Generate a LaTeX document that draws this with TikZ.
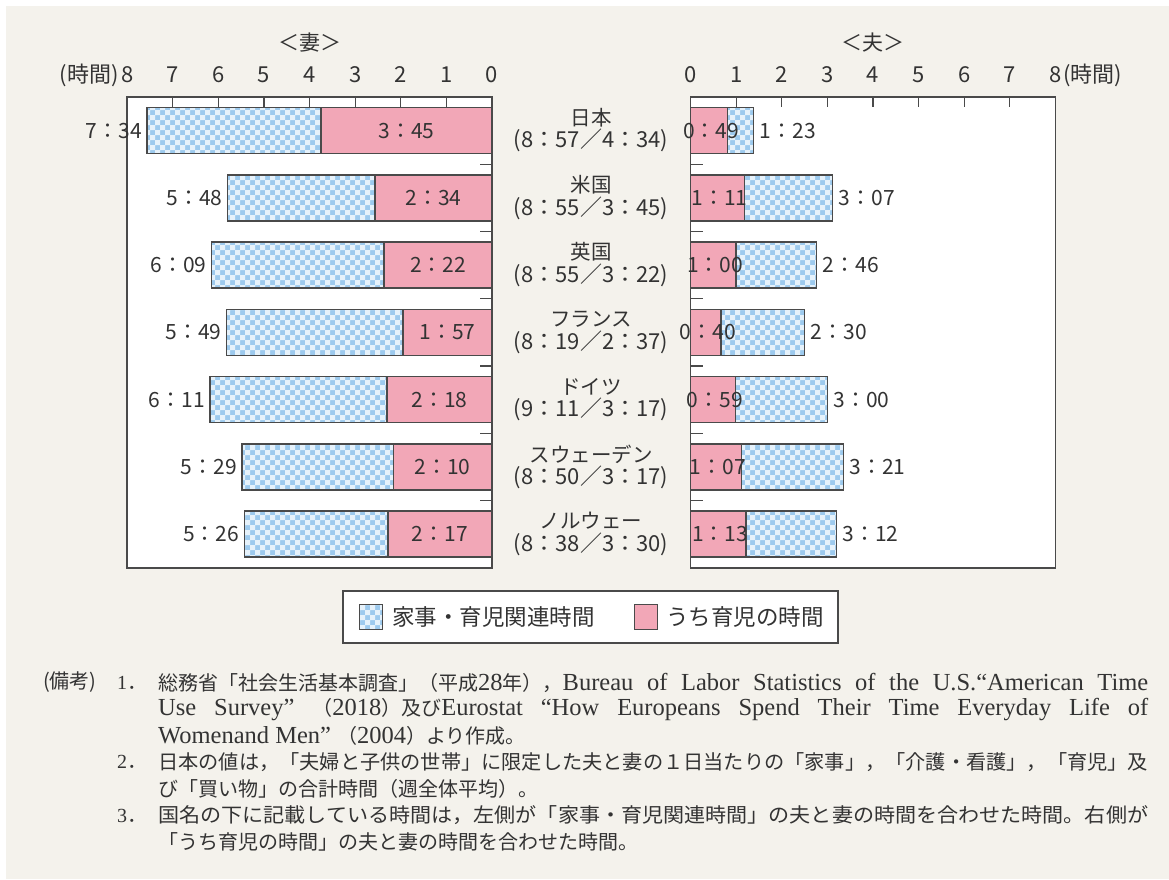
\documentclass[tikz,border=0pt]{standalone}
\usepackage{fontspec}
\usepackage{graphicx}
\newfontfamily\jpf{Noto Sans CJK JP}
\newfontfamily\latf{Liberation Serif}
\newcommand\lts{\latf\fontsize{24.5}{24.5}\selectfont}
\definecolor{bgc}{HTML}{F4F2EC}
\definecolor{lc}{HTML}{4A4A4A}
\definecolor{tc}{HTML}{333333}
\definecolor{cpink}{HTML}{F2A7B7}
\definecolor{cblue}{HTML}{9DCAEE}
\definecolor{clight}{HTML}{E6F2FB}
\tikzset{
  frame/.style={draw=lc, line width=1.5pt, fill=white},
  barline/.style={draw=lc, line width=1.3pt},
  tickline/.style={draw=lc, line width=1.2pt},
  lbl/.style={inner sep=0pt, text=tc, font=\jpf\fontsize{21}{21}\selectfont},
  axl/.style={inner sep=0pt, text=tc, font=\jpf\fontsize{22}{22}\selectfont},
  ttl/.style={inner sep=0pt, text=tc, font=\jpf\fontsize{21}{21}\selectfont},
  cname/.style={inner sep=0pt, text=tc, font=\jpf\fontsize{20.5}{20.5}\selectfont},
  cpair/.style={inner sep=0pt, text=tc, font=\jpf\fontsize{22}{22}\selectfont},
  leg/.style={inner sep=0pt, text=tc, font=\jpf\fontsize{22.5}{22.5}\selectfont, anchor=west},
  note/.style={inner sep=0pt, text=tc, font=\jpf\fontsize{20}{20}\selectfont, anchor=west},
}
\newcommand\chk[4]{%
  \begin{scope}
    \clip (#1,#2) rectangle (#3,#4);
    \fill[cblue] (#1,#2) rectangle (#3,#4);
    \pgfmathtruncatemacro\ka{floor(#1/10)}%
    \pgfmathtruncatemacro\kb{ceil(#3/10)}%
    \pgfmathtruncatemacro\ma{floor(#2/10)}%
    \pgfmathtruncatemacro\mb{ceil(#4/10)}%
    \fill[clight, even odd rule]
      \foreach \k in {\ka,...,\kb}{(10*\k,#2-1) rectangle (10*\k+5,#4+1)}
      \foreach \m in {\ma,...,\mb}{(#1-1,10*\m) rectangle (#3+1,10*\m+5)};
  \end{scope}}
\begin{document}
\begin{tikzpicture}[x=1pt,y=-1pt]
\useasboundingbox (0,0) rectangle (1169,879);
\fill[white] (0,0) rectangle (1169,879);
\fill[bgc] (6,6) rectangle (1169,879);
% titles
\node[ttl] (tw) at (310,43) {＜妻＞};
\node[ttl] (th) at (873,43) {＜夫＞};
% frames
\draw[frame] (127.2,97) rectangle (492,567.75);
\draw[frame] (690.5,97) rectangle (1055.3,567.75);
% axis labels
\foreach \h in {0,...,8}{
  \node[axl] (la\h) at (492-45.6*\h,75) {\h};
  \node[axl] (ra\h) at (690.5+45.6*\h,75) {\h};
}
\node[axl, anchor=east] (lunit) at (119,75) {(時間)};
\node[axl, anchor=west] (runit) at (1063,75) {(時間)};
% ticks
\foreach \h in {1,...,7}{
  \draw[tickline] (492-45.6*\h,97) -- ++(0,10);
  \draw[tickline] (690.5+45.6*\h,97) -- ++(0,10);
}
\foreach \k in {1,...,6}{
  \draw[tickline] (492,97+67.25*\k) -- ++(-12,0);
  \draw[tickline] (690.5,97+67.25*\k) -- ++(12,0);
}
% rows
\foreach \i/\nm/\pr/\tw/\cw/\th/\ch/\ltw/\lcw/\lth/\lch in {
  0/日本/8：57／4：34/454/225/83/49/7：34/3：45/1：23/0：49,
  1/米国/8：55／3：45/348/154/187/71/5：48/2：34/3：07/1：11,
  2/英国/8：55／3：22/369/142/166/60/6：09/2：22/2：46/1：00,
  3/フランス/8：19／2：37/349/117/150/40/5：49/1：57/2：30/0：40,
  4/ドイツ/9：11／3：17/371/138/180/59/6：11/2：18/3：00/0：59,
  5/スウェーデン/8：50／3：17/329/130/201/67/5：29/2：10/3：21/1：07,
  6/ノルウェー/8：38／3：30/326/137/192/73/5：26/2：17/3：12/1：13}{
  \pgfmathsetmacro\yc{130.6+67.25*\i}
  \pgfmathsetmacro\yt{\yc-23}
  \pgfmathsetmacro\yb{\yc+23}
  \pgfmathsetmacro\xwt{492-0.76*\tw}
  \pgfmathsetmacro\xwc{492-0.76*\cw}
  \pgfmathsetmacro\xht{690.5+0.76*\th}
  \pgfmathsetmacro\xhc{690.5+0.76*\ch}
  % wife
  \chk{\xwt}{\yt}{\xwc}{\yb}
  \fill[cpink] (\xwc,\yt) rectangle (492,\yb);
  \draw[barline] (\xwt,\yt) rectangle (492,\yb);
  \draw[barline] (\xwc,\yt) -- (\xwc,\yb);
  % husband
  \fill[cpink] (690.5,\yt) rectangle (\xhc,\yb);
  \chk{\xhc}{\yt}{\xht}{\yb}
  \draw[barline] (690.5,\yt) rectangle (\xht,\yb);
  \draw[barline] (\xhc,\yt) -- (\xhc,\yb);
  % labels
  \node[lbl, anchor=east] (wt\i) at (\xwt-5,\yc) {\ltw};
  \node[lbl] (wc\i) at ({(\xwc+492)/2},\yc) {\lcw};
  \node[lbl, anchor=west] (ht\i) at (\xht+6,\yc) {\lth};
  \node[lbl] (hc\i) at ({(690.5+\xhc)/2+2},\yc) {\lch};
  \node[cname] (cn\i) at (591,\yc-13) {\nm};
  \node[cpair] (cp\i) at (591,\yc+10) {(\pr)};
}
% legend
\draw[draw=lc, line width=1.3pt, fill=white] (343,591) rectangle (838,643);
\chk{359}{604}{382}{629}
\draw[barline, line width=1pt] (359,604) rectangle (382,629);
\node[leg] (lg1) at (392,617) {家事・育児関連時間};
\fill[cpink] (634,604) rectangle (657,629);
\draw[barline, line width=1pt] (634,604) rectangle (657,629);
\node[leg] (lg2) at (666,617) {うち育児の時間};
% notes
\node[note] (n0) at (43,682.5) {(備考)};
\node[note] (n1) at (117,682.5) {{\latf 1}．};
\node[note] (n1a) at (158,682.5) {\makebox[990pt][s]{総務省「社会生活基本調査」（平成{\lts 28}年），{\lts Bureau of Labor Statistics of the U.S.“American Time}}};
\node[note] (n1b) at (158,709.1) {\makebox[990pt][s]{{\lts Use Survey” }（{\lts 2018}）及び{\lts Eurostat “How Europeans Spend Their Time Everyday Life of}}};
\node[note] (n1c) at (158,735.7) {{\lts Womenand Men” }（{\lts 2004}）より作成。};
\node[note] (n2) at (117,762.3) {{\latf 2}．};
\node[note] (n2a) at (158,762.3) {\resizebox{990pt}{\height}{日本の値は，「夫婦と子供の世帯」に限定した夫と妻の１日当たりの「家事」，「介護・看護」，「育児」及}};
\node[note] (n2b) at (158,788.9) {び「買い物」の合計時間（週全体平均）。};
\node[note] (n3) at (117,815.5) {{\latf 3}．};
\node[note] (n3a) at (158,815.5) {\resizebox{990pt}{\height}{国名の下に記載している時間は，左側が「家事・育児関連時間」の夫と妻の時間を合わせた時間。右側が}};
\node[note] (n3b) at (158,842.1) {「うち育児の時間」の夫と妻の時間を合わせた時間。};
\end{tikzpicture}
\end{document}
